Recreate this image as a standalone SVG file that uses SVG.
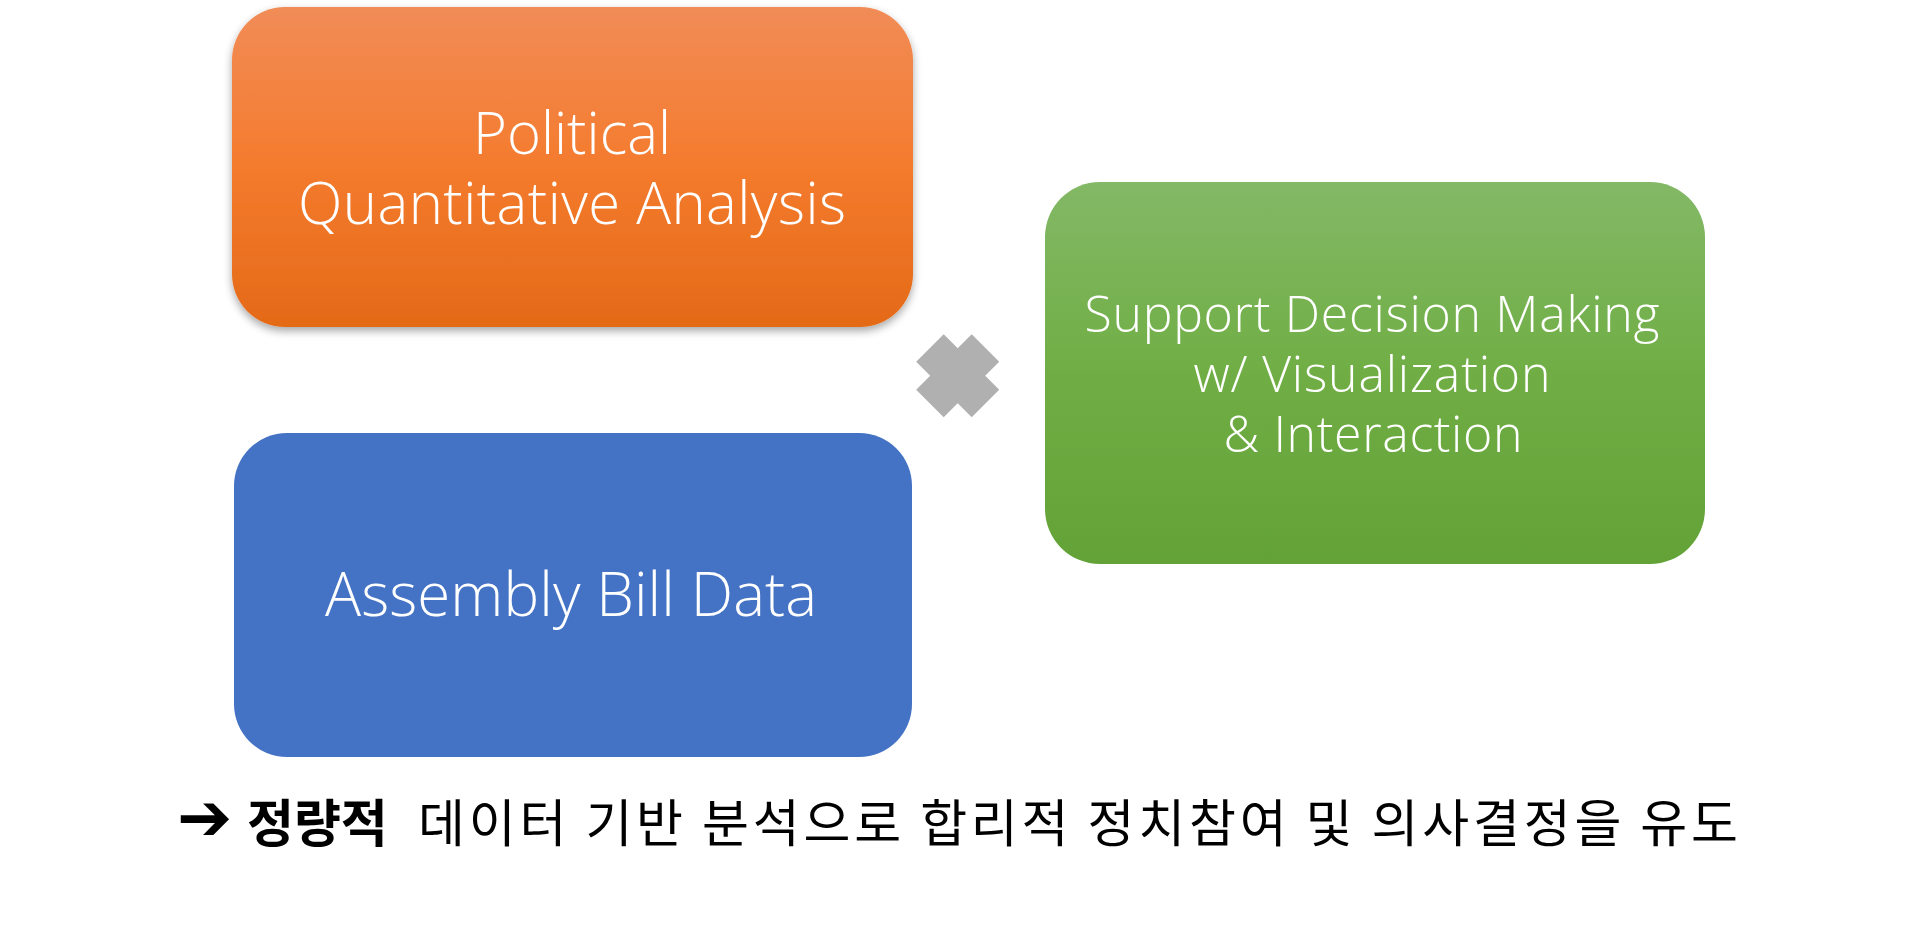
<svg xmlns="http://www.w3.org/2000/svg" width="1916" height="947" viewBox="0 0 1916 947">
  <style>
    .lbl { font-family: "Open Sans", "Noto Sans", "Liberation Sans", sans-serif; font-weight: 300; fill: #FFFFFF; text-anchor: middle; }
    .kr { font-family: "Noto Sans CJK KR", "Noto Sans", sans-serif; fill: #000000; font-size: 51px; }
  </style>
  <defs>
    <linearGradient id="gOrange" x1="0" y1="0" x2="0" y2="1">
      <stop offset="0" stop-color="#F18C57"/>
      <stop offset="0.5" stop-color="#F47B2D"/>
      <stop offset="1" stop-color="#E46A18"/>
    </linearGradient>
    <linearGradient id="gGreen" x1="0" y1="0" x2="0" y2="1">
      <stop offset="0" stop-color="#83B866"/>
      <stop offset="0.5" stop-color="#70AE45"/>
      <stop offset="1" stop-color="#63A237"/>
    </linearGradient>
    <filter id="shadow" x="-10%" y="-10%" width="120%" height="125%">
      <feDropShadow dx="0" dy="4" stdDeviation="4" flood-color="#000000" flood-opacity="0.35"/>
    </filter>
  </defs>

  <rect width="1916" height="947" fill="#FFFFFF"/>

  <g id="connectors"></g>

  <g id="node-political">
    <rect x="232" y="7" width="681" height="320" rx="53" ry="53" fill="url(#gOrange)" filter="url(#shadow)"/>
    <text class="lbl" x="572" y="154" font-size="58">Political</text>
    <text class="lbl" x="572" y="224" font-size="58" textLength="548" lengthAdjust="spacing">Quantitative Analysis</text>
  </g>

  <g id="node-decision">
    <rect x="1045" y="182" width="660" height="382" rx="55" ry="55" fill="url(#gGreen)"/>
    <text class="lbl" x="1372" y="332" font-size="50" textLength="575" lengthAdjust="spacing">Support Decision Making</text>
    <text class="lbl" x="1372" y="392" font-size="50" textLength="357" lengthAdjust="spacing">w/ Visualization</text>
    <text class="lbl" x="1373" y="452" font-size="50" textLength="299" lengthAdjust="spacing">&amp; Interaction</text>
  </g>

  <g id="node-bill">
    <rect x="234" y="433" width="678" height="324" rx="53" ry="53" fill="#4472C4"/>
    <text class="lbl" x="571" y="616" font-size="60" textLength="492" lengthAdjust="spacing">Assembly Bill Data</text>
  </g>

  <g id="node-times">
    <polygon fill="#B0B0B0" transform="translate(957.7,375.8)" points="-14,-41.5 0,-27.5 14,-41.5 41.5,-14 27.5,0 41.5,14 14,41.5 0,27.5 -14,41.5 -41.5,14 -27.5,0 -41.5,-14"/>
  </g>

  <g id="caption">
    <text x="177" y="840" font-family="DejaVu Sans, sans-serif" font-size="66" fill="#000000">➔</text>
    <text class="kr" x="247" y="842" font-weight="700">정량적</text>
    <text class="kr" x="418" y="842" textLength="1320" lengthAdjust="spacing">데이터 기반 분석으로 합리적 정치참여 및 의사결정을 유도</text>
  </g>
</svg>
